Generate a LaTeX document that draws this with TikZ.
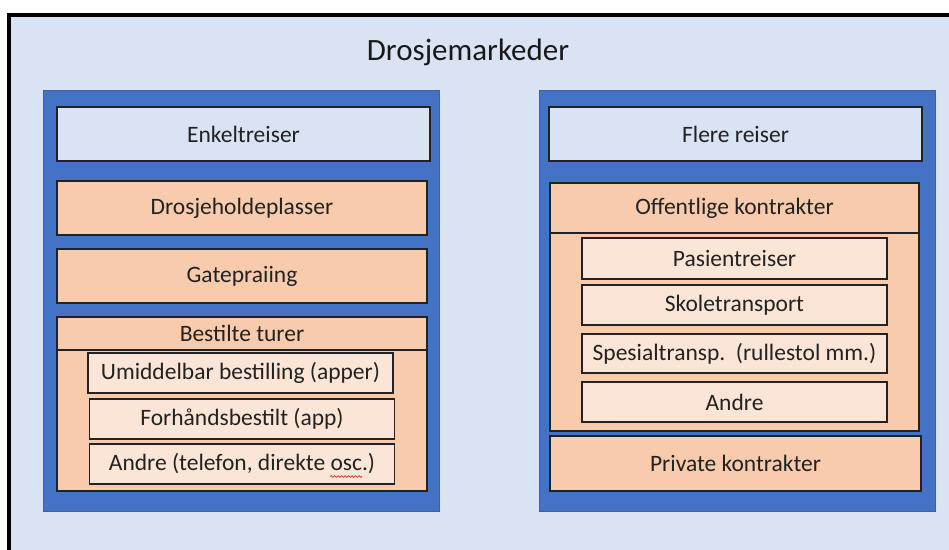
\documentclass[tikz,border=0pt]{standalone}
\usepackage{fontspec}
\setmainfont{Carlito}
\usetikzlibrary{decorations.pathmorphing}

\definecolor{bgblue}{HTML}{DAE3F3}
\definecolor{panelblue}{HTML}{4472C4}
\definecolor{panelline}{HTML}{3A63AE}
\definecolor{peach}{HTML}{F8CBAD}
\definecolor{lightpeach}{HTML}{FBE5D6}
\definecolor{txt}{HTML}{222222}

\begin{document}
\begin{tikzpicture}[x=1pt, y=-1pt,
    panel/.style={draw=panelline, line width=0.8pt, fill=panelblue, minimum width=396pt, minimum height=421pt, inner sep=0pt},
    box/.style={draw=txt, line width=1.3pt, text=txt, inner sep=0pt, font=\fontsize{23.5}{28}\selectfont},
    topbox/.style={box, fill=bgblue, minimum width=373pt, minimum height=54pt},
    mainbox/.style={box, fill=peach, minimum width=370pt},
    subbox/.style={box, fill=lightpeach, minimum width=305pt, minimum height=40pt}]
    \useasboundingbox (0,0) rectangle (949,549);

    % Background and frame
    \fill[white] (0,0) rectangle (949,549);
    \draw[line width=3.5pt, fill=bgblue] (9,15) rectangle (970,570);

    % Title
    \node[text=black!90, font=\fontsize{31}{37}\selectfont] (title) at (468,52) {Drosjemarkeder};

    % Left panel
    \node[panel] (panelL) at (241,300.5) {};
    \node[topbox] (enkelt) at (243.5,134) {Enkeltreiser};
    \node[mainbox, minimum height=54pt] (drosje) at (242,208) {Drosjeholdeplasser};
    \node[mainbox, minimum height=54pt] (gate) at (242,276) {Gatepraiing};
    \node[mainbox, minimum height=141pt] (bestbody) at (242,420.5) {};
    \node[mainbox, minimum height=33pt] (besthdr) at (242,333.5) {Bestilte turer};
    \node[subbox] (umid) at (240.5,373) {Umiddelbar bestilling (apper)};
    \node[subbox] (forh) at (242,419) {Forhåndsbestilt (app)};
    \node[subbox] (andreL) at (242,464) {Andre (telefon, direkte osc.)};
    \draw[red!85!black, line width=0.6pt, decorate, decoration={snake, amplitude=0.9pt, segment length=3.5pt}] (330,476.5) -- (362,476.5);

    % Right panel
    \node[panel] (panelR) at (737,300.5) {};
    \node[topbox] (flere) at (735.5,134) {Flere reiser};
    \node[mainbox, minimum width=369pt, minimum height=198pt] (offbody) at (734.5,332) {};
    \node[mainbox, minimum width=369pt, minimum height=50pt] (offhdr) at (734.5,208) {Offentlige kontrakter};
    \node[subbox, minimum height=41pt] (pasient) at (734.5,258.5) {Pasientreiser};
    \node[subbox] (skole) at (734.5,305) {Skoletransport};
    \node[subbox, minimum height=39pt] (spesial) at (734.5,353.5) {Spesialtransp.\ \ (rullestol mm.)};
    \node[subbox] (andreR) at (734.5,402) {Andre};
    \node[mainbox, minimum width=371pt, minimum height=55pt] (privat) at (735.5,463.5) {Private kontrakter};
\end{tikzpicture}
\end{document}
